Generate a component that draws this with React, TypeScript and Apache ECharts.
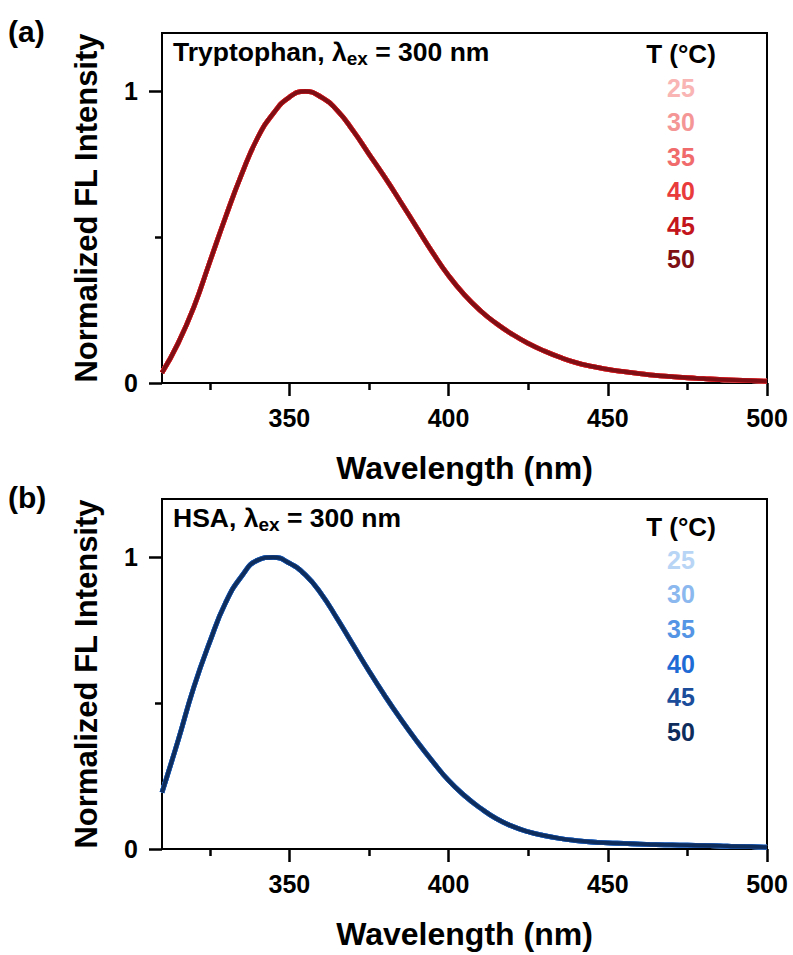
import React, { useEffect, useRef } from 'react';
import * as echarts from 'echarts';

// ---- data ----
const wavelengths = [310, 315, 320, 325, 330, 335, 340, 345, 350, 355, 360, 365, 370, 375, 380, 385, 390, 395, 400, 405, 410, 415, 420, 425, 430, 435, 440, 445, 450, 455, 460, 465, 470, 475, 480, 485, 490, 495, 500];
const tryptophan = [0.035, 0.135, 0.26, 0.415, 0.57, 0.715, 0.84, 0.925, 0.98, 1.0, 0.98, 0.935, 0.865, 0.785, 0.705, 0.62, 0.533, 0.447, 0.368, 0.302, 0.248, 0.204, 0.167, 0.136, 0.11, 0.088, 0.07, 0.057, 0.047, 0.039, 0.032, 0.026, 0.022, 0.018, 0.015, 0.012, 0.01, 0.008, 0.006];
const hsa = [0.194, 0.37, 0.555, 0.71, 0.845, 0.935, 0.99, 1.0, 0.98, 0.94, 0.875, 0.79, 0.7, 0.61, 0.525, 0.445, 0.37, 0.3, 0.235, 0.183, 0.14, 0.104, 0.078, 0.059, 0.046, 0.036, 0.029, 0.024, 0.021, 0.019, 0.017, 0.015, 0.014, 0.013, 0.012, 0.011, 0.009, 0.008, 0.006];
const temperatures = ['25', '30', '35', '40', '45', '50'];
const redColors = ['#F9B4B4', '#F59696', '#F06C6C', '#E93A3C', '#C4151C', '#7E0F14'];
const blueColors = ['#B9D5F6', '#8BB8EE', '#5595E5', '#1F6BD5', '#1B4D9B', '#0F2D5C'];
const xMajorTicks = [350, 400, 450, 500];
const xMinorTicks = [325, 375, 425, 475];
const yMajorTicks = [0, 1];
const yMinorTicks = [0.5];
const panelLetters = ['(a)', '(b)'];
const panelSamples = ['Tryptophan', 'HSA'];
const legendTitle = 'T (°C)';
const xTitle = 'Wavelength (nm)';
const yTitle = 'Normalized FL Intensity';

const FONT = '"Liberation Sans", Arial, Helvetica, sans-serif';

export default function App() {
  const ref = useRef<HTMLDivElement>(null);

  useEffect(() => {
    if (!ref.current) return;
    const chart = echarts.init(ref.current, undefined, { renderer: 'svg' });

    const panelTops = [33, 499];
    const plotH = 350;

    const grids = panelTops.map((t) => ({
      left: 162,
      top: t,
      width: 605,
      height: plotH,
      show: true,
      borderColor: '#000',
      borderWidth: 2,
      backgroundColor: 'transparent',
    }));

    const xAxes: any[] = [];
    const yAxes: any[] = [];
    [0, 1].forEach((g) => {
      xAxes.push({
        gridIndex: g,
        type: 'value',
        position: 'bottom',
        min: 310,
        max: 500,
        name: xTitle,
        nameLocation: 'middle',
        nameGap: 69,
        nameTextStyle: { fontSize: 32, fontWeight: 'bold', color: '#000', fontFamily: FONT },
        axisLine: { show: true, lineStyle: { color: '#000', width: 2 } },
        axisTick: { show: true, customValues: xMajorTicks, length: 13, lineStyle: { color: '#000', width: 2.5 } },
        axisLabel: { show: true, customValues: xMajorTicks, margin: 22, fontSize: 25, fontWeight: 'bold', color: '#000', fontFamily: FONT, showMaxLabel: true },
        splitLine: { show: false },
      });
      xAxes.push({
        gridIndex: g,
        type: 'value',
        position: 'bottom',
        min: 310,
        max: 500,
        axisLine: { show: false },
        axisTick: { show: true, customValues: xMinorTicks, length: 7, lineStyle: { color: '#000', width: 2.5 } },
        axisLabel: { show: false },
        splitLine: { show: false },
      });
      yAxes.push({
        gridIndex: g,
        type: 'value',
        position: 'left',
        min: 0,
        max: 1.2,
        name: yTitle,
        nameLocation: 'middle',
        nameGap: 60,
        nameTextStyle: { fontSize: 31, fontWeight: 'bold', color: '#000', fontFamily: FONT },
        axisLine: { show: true, lineStyle: { color: '#000', width: 2 } },
        axisTick: { show: true, customValues: yMajorTicks, length: 13, lineStyle: { color: '#000', width: 2.5 } },
        axisLabel: { show: true, customValues: yMajorTicks, margin: 24, fontSize: 25, fontWeight: 'bold', color: '#000', fontFamily: FONT },
        splitLine: { show: false },
      });
      yAxes.push({
        gridIndex: g,
        type: 'value',
        position: 'left',
        min: 0,
        max: 1.2,
        axisLine: { show: false },
        axisTick: { show: true, customValues: yMinorTicks, length: 7, lineStyle: { color: '#000', width: 2.5 } },
        axisLabel: { show: false },
        splitLine: { show: false },
      });
    });

    const curves = [tryptophan, hsa];
    const palettes = [redColors, blueColors];
    const series: any[] = [];
    [0, 1].forEach((g) => {
      temperatures.forEach((t, i) => {
        series.push({
          type: 'line',
          name: `${panelSamples[g]} ${t} °C`,
          xAxisIndex: g * 2,
          yAxisIndex: g * 2,
          data: wavelengths.map((w, k) => [w, curves[g][k]]),
          smooth: 0.5,
          showSymbol: false,
          symbol: 'none',
          color: palettes[g][i],
          lineStyle: { color: palettes[g][i], width: i === temperatures.length - 1 ? 3.6 : 4.8 },
          z: 2 + i,
        });
      });
    });

    const textBase = { fontFamily: FONT, fontWeight: 'bold', fill: '#000' };
    const graphic: any[] = [];
    const letterY = [31, 497];
    const sampleY = [52, 518];
    const legTitleY = [54, 527];
    const legY = [
      [88, 122, 157, 191, 226, 259],
      [560, 594, 629, 664, 697, 732],
    ];
    [0, 1].forEach((g) => {
      graphic.push({
        type: 'text',
        x: 8,
        y: letterY[g],
        style: { ...textBase, text: panelLetters[g], fontSize: 30, textVerticalAlign: 'middle', verticalAlign: 'middle' },
      });
      graphic.push({
        type: 'text',
        x: 173,
        y: sampleY[g],
        style: {
          text: `{m|${panelSamples[g]}, λ}{s|ex}{m| = 300 nm}`,
          textVerticalAlign: 'middle',
          verticalAlign: 'middle',
          rich: {
            m: { ...textBase, fontSize: 26.5, lineHeight: 31 },
            s: { ...textBase, fontSize: 19, lineHeight: 18, verticalAlign: 'bottom' },
          },
        },
      });
      graphic.push({
        type: 'text',
        x: 681,
        y: legTitleY[g],
        style: { ...textBase, text: legendTitle, fontSize: 26, textAlign: 'center', align: 'center', textVerticalAlign: 'middle', verticalAlign: 'middle' },
      });
      temperatures.forEach((t, i) => {
        graphic.push({
          type: 'text',
          x: 681,
          y: legY[g][i],
          style: { ...textBase, text: t, fontSize: 25, fill: palettes[g][i], textAlign: 'center', align: 'center', textVerticalAlign: 'middle', verticalAlign: 'middle' },
        });
      });
    });

    chart.setOption({
      animation: false,
      backgroundColor: '#fff',
      textStyle: { fontFamily: FONT },
      grid: grids,
      xAxis: xAxes,
      yAxis: yAxes,
      series,
      graphic,
    });

    return () => chart.dispose();
  }, []);

  return <div ref={ref} style={{ position: 'absolute', left: 0, top: 0, width: 793, height: 955 }} />;
}
